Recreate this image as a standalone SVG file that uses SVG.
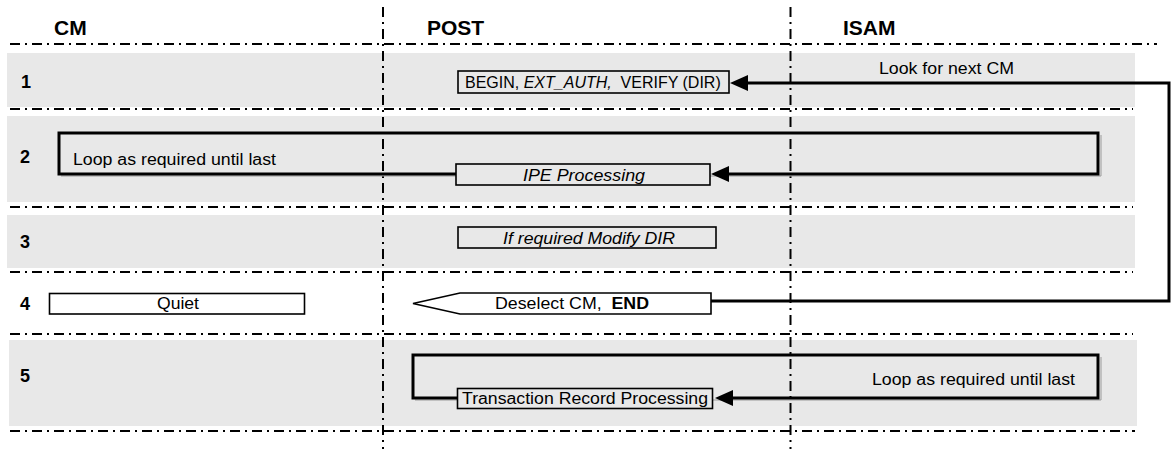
<svg xmlns="http://www.w3.org/2000/svg" width="1173" height="449" viewBox="0 0 1173 449">
  <style>
    .band { fill: #e8e8e8; }
    .grid { stroke: #000; stroke-width: 2; stroke-dasharray: 10 5 2 5; fill: none; }
    .hdr { font-family: "Liberation Sans", Arial, sans-serif; font-weight: bold; font-size: 21px; fill: #000; }
    .num { font-family: "Liberation Sans", Arial, sans-serif; font-weight: bold; font-size: 18px; fill: #000; }
    .lbl { font-family: "Liberation Sans", Arial, sans-serif; font-size: 16px; fill: #000; }
    .it { font-style: italic; }
    .box { stroke: #000; stroke-width: 1.6; }
    .gray { fill: #e8e8e8; }
    .white { fill: #fff; }
    .conn { stroke: #000; stroke-width: 3; fill: none; stroke-linejoin: miter; }
    .shadow { stroke: #9a9a9a; stroke-width: 1; fill: none; }
  </style>
  <defs>
    <marker id="ah" markerUnits="userSpaceOnUse" markerWidth="18" markerHeight="16" viewBox="0 0 18 16" refX="12" refY="8" orient="auto">
      <path d="M0,0 L18,8 L0,16 Z" fill="#000"/>
    </marker>
  </defs>

  <g id="bands">
    <rect class="band" x="7" y="53" width="1128" height="54"/>
    <rect class="band" x="7" y="116" width="1128" height="86"/>
    <rect class="band" x="7" y="215" width="1128" height="53"/>
    <rect class="band" x="9" y="340" width="1128" height="86"/>
  </g>

  <g id="grid">
    <line class="grid" x1="10" y1="44" x2="1157" y2="44"/>
    <line class="grid" x1="10" y1="109" x2="1133" y2="109"/>
    <line class="grid" x1="10" y1="207" x2="1133" y2="207"/>
    <line class="grid" x1="10" y1="272" x2="1133" y2="272"/>
    <line class="grid" x1="10" y1="334" x2="1133" y2="334"/>
    <line class="grid" x1="10" y1="431" x2="1135" y2="431"/>
    <line class="grid" x1="383" y1="7" x2="383" y2="449"/>
    <line class="grid" x1="790.5" y1="7" x2="790.5" y2="449"/>
  </g>

  <g id="headers">
    <text class="hdr" x="54" y="35">CM</text>
    <text class="hdr" x="427" y="35">POST</text>
    <text class="hdr" x="843" y="35">ISAM</text>
  </g>

  <g id="row-numbers">
    <text class="num" x="21" y="88">1</text>
    <text class="num" x="20" y="163">2</text>
    <text class="num" x="20" y="248">3</text>
    <text class="num" x="20" y="310">4</text>
    <text class="num" x="20" y="382">5</text>
  </g>

  <g id="connectors">
    <path class="shadow" d="M61,176 H1101 V135"/>
    <path class="shadow" d="M415,400 H1101 V357"/>
    <path class="conn" d="M711,301 H1169 V83 H736" marker-end="url(#ah)"/>
    <path class="conn" d="M456,174 H59 V133 H1098 V174 H717" marker-end="url(#ah)"/>
    <path class="conn" d="M457,398 H413 V355 H1098 V398 H721" marker-end="url(#ah)"/>
    <text class="lbl" x="879" y="74" textLength="135" lengthAdjust="spacingAndGlyphs">Look for next CM</text>
    <text class="lbl" x="73" y="165" textLength="203" lengthAdjust="spacingAndGlyphs">Loop as required until last</text>
    <text class="lbl" x="872" y="385" textLength="203" lengthAdjust="spacingAndGlyphs">Loop as required until last</text>
  </g>

  <g id="node-begin">
    <rect class="box gray" x="458" y="71" width="271" height="22"/>
    <text class="lbl" x="465" y="88" xml:space="preserve">BEGIN, <tspan class="it">EXT_AUTH,</tspan>  VERIFY (DIR)</text>
  </g>

  <g id="node-ipe">
    <rect class="box gray" x="456" y="164" width="254" height="21"/>
    <text class="lbl it" x="523" y="181" textLength="122" lengthAdjust="spacingAndGlyphs">IPE Processing</text>
  </g>

  <g id="node-modify">
    <rect class="box gray" x="458" y="227" width="258" height="21"/>
    <text class="lbl it" x="503" y="244" textLength="172" lengthAdjust="spacingAndGlyphs">If required Modify DIR</text>
  </g>

  <g id="node-quiet">
    <rect class="box white" x="49.5" y="293.5" width="255" height="20.5"/>
    <text class="lbl" x="157" y="309" textLength="42" lengthAdjust="spacingAndGlyphs">Quiet</text>
  </g>

  <g id="node-deselect">
    <polygon class="box white" points="413,303.5 460,293 711,293 711,314 460,314"/>
    <text class="lbl" x="495" y="309" textLength="154" lengthAdjust="spacingAndGlyphs" xml:space="preserve">Deselect CM,  <tspan font-weight="bold">END</tspan></text>
  </g>

  <g id="node-trp">
    <rect class="box gray" x="457.5" y="388.5" width="255" height="20"/>
    <text class="lbl" x="462" y="404" textLength="246" lengthAdjust="spacingAndGlyphs">Transaction Record Processing</text>
  </g>
</svg>
